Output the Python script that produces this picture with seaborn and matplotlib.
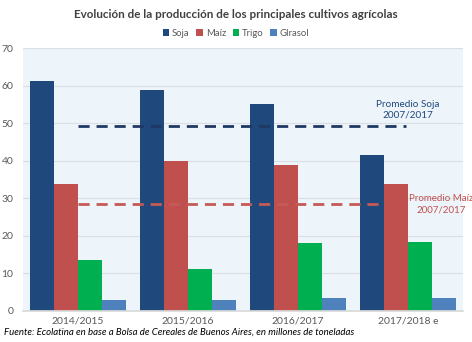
import matplotlib
matplotlib.use("Agg")
import matplotlib.pyplot as plt
import seaborn as sns
import pandas as pd
from matplotlib.patches import Patch

campanas = ["2014/2015", "2015/2016", "2016/2017", "2017/2018 e"]
cultivos = ["Soja", "Maíz", "Trigo", "GIrasol"]
soja = [61.3, 58.7, 55.0, 41.4]
maiz = [33.9, 39.8, 38.9, 33.9]
trigo = [13.7, 11.1, 18.1, 18.3]
girasol = [2.9, 2.8, 3.4, 3.5]
prom_soja = 49.2
prom_maiz = 28.6
colores = ["#1F497D", "#C0504D", "#00B050", "#4F81BD"]

sns.set_theme(style="white")
plt.rcParams["font.family"] = ["Lato", "DejaVu Sans"]

rows = []
for c, vals in zip(cultivos, [soja, maiz, trigo, girasol]):
    for camp, v in zip(campanas, vals):
        rows.append({"Campaña": camp, "Cultivo": c, "Valor": v})
df = pd.DataFrame(rows)

fig = plt.figure(figsize=(4.72, 3.42), dpi=100)
ax = fig.add_axes([23/472, 1-311/342, 440/472, 263/342])
ax.set_facecolor("#EEF5FA")

sns.barplot(data=df, x="Campaña", y="Valor", hue="Cultivo", order=campanas,
            hue_order=cultivos, palette=colores, saturation=1, width=0.88,
            ax=ax, legend=False, errorbar=None, linewidth=0, edgecolor="none",
            zorder=2)

ax.set_ylim(0, 70)
ax.set_xlim(-0.5, 3.5)
ax.set_yticks(range(0, 71, 10))
ax.yaxis.grid(True, color="#D9DFE5", linewidth=0.8, zorder=0)
ax.set_axisbelow(True)
for s in ["top", "right", "left"]:
    ax.spines[s].set_visible(False)
ax.spines["bottom"].set_color("#D9D9D9")
ax.tick_params(axis="both", length=0, labelsize=7.5, labelcolor="#595959")
ax.tick_params(axis="y", pad=7)
ax.tick_params(axis="x", pad=4)
ax.set_xlabel("")
ax.set_ylabel("")

ax.plot([0, 2.98], [prom_soja, prom_soja], color="#1F3864", linewidth=2,
        dashes=(4, 2.5), zorder=3)
ax.plot([0, 2.77], [prom_maiz, prom_maiz], color="#C55A57", linewidth=2,
        dashes=(4, 2.5), zorder=3)
ax.text(3.0, prom_soja + 4.4, "Promedio Soja\n2007/2017", color="#1F497D",
        fontsize=7.2, ha="center", va="center", linespacing=1.3, zorder=4)
fig.text(441/472, 1-204/342, "Promedio Maíz\n2007/2017", color="#C0504D",
         fontsize=7.0, ha="center", va="center", linespacing=1.3, zorder=4)

fig.text(0.5, 1-14/342, "Evolución de la producción de los principales cultivos agrícolas",
         ha="center", va="center", fontsize=8.4, fontweight="bold", color="#404040")
handles = [Patch(facecolor=c, edgecolor="none") for c in colores]
fig.legend(handles, cultivos, loc="center", bbox_to_anchor=(0.5, 1-33/342),
           ncol=4, frameon=False, fontsize=6.8, handlelength=0.7, handleheight=0.7,
           handletextpad=0.3, columnspacing=0.7, labelcolor="#595959")
fig.text(4/472, 1-332/342,
         "Fuente: Ecolatina en base a Bolsa de Cereales de Buenos Aires, en millones de toneladas",
         ha="left", va="center", fontsize=6.9, style="italic", color="#000000")

fig.savefig("out.png", dpi=100, facecolor="white")
